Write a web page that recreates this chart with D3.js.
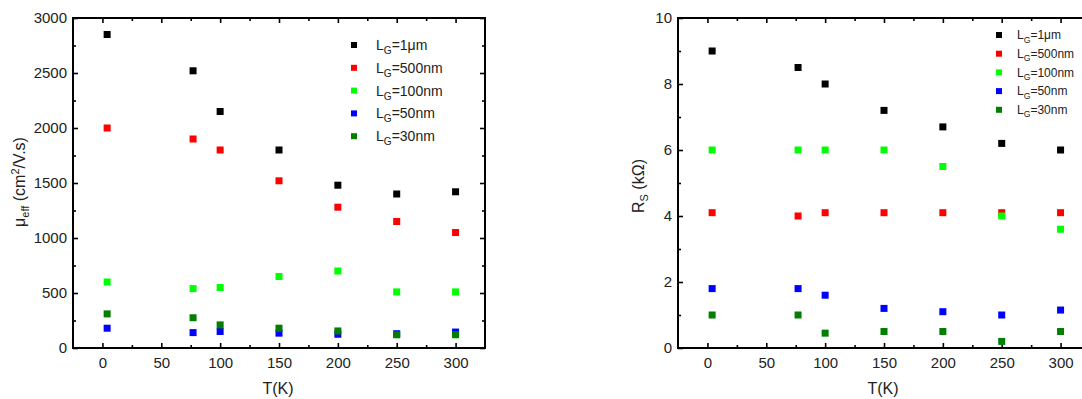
<!DOCTYPE html>
<html>
<head>
<meta charset="utf-8">
<script src="https://cdn.jsdelivr.net/npm/d3@7"></script>
<style>
  html, body { margin: 0; padding: 0; background: #fff; }
  svg { display: block; }
  text { font-family: "Liberation Sans", Arial, sans-serif; fill: #222; }
</style>
</head>
<body>
<svg id="chart" width="1082" height="399"></svg>
<script>
// ---- data ----
const temperatures = [4, 77, 100, 150, 200, 250, 300];
const gateLengths = ["1μm", "500nm", "100nm", "50nm", "30nm"];
const seriesColors = ["#000000", "#ff0000", "#00ff00", "#0000ff", "#007f00"];

// effective mobility (cm^2/V.s)
const mu_1um   = [2850, 2520, 2150, 1800, 1480, 1400, 1420];
const mu_500nm = [2000, 1900, 1800, 1520, 1280, 1150, 1050];
const mu_100nm = [600, 540, 550, 650, 700, 510, 510];
const mu_50nm  = [180, 140, 150, 135, 125, 130, 145];
const mu_30nm  = [310, 275, 210, 180, 155, 120, 120];

// source resistance (kOhm)
const rs_1um   = [9.0, 8.5, 8.0, 7.2, 6.7, 6.2, 6.0];
const rs_500nm = [4.1, 4.0, 4.1, 4.1, 4.1, 4.1, 4.1];
const rs_100nm = [6.0, 6.0, 6.0, 6.0, 5.5, 4.0, 3.6];
const rs_50nm  = [1.8, 1.8, 1.6, 1.2, 1.1, 1.0, 1.15];
const rs_30nm  = [1.0, 1.0, 0.45, 0.5, 0.5, 0.2, 0.5];

const xTicks = [0, 50, 100, 150, 200, 250, 300];
const xMinorTicks = [25, 75, 125, 175, 225, 275];
const muTicks = [0, 500, 1000, 1500, 2000, 2500, 3000];
const muMinorTicks = [250, 750, 1250, 1750, 2250, 2750];
const rsTicks = [0, 2, 4, 6, 8, 10];
const rsMinorTicks = [1, 3, 5, 7, 9];

const svg = d3.select("#chart");

function panel(cfg) {
  const g = svg.append("g");
  const x = d3.scaleLinear().domain([-25, 325]).range([cfg.left, cfg.right]);
  const y = d3.scaleLinear().domain(cfg.yDomain).range([348, 18]);

  function styleAxis(sel) {
    sel.select(".domain").remove();
    sel.selectAll("line").attr("stroke", "#000").attr("stroke-width", 1.6);
    sel.selectAll("text").style("font-size", "15px").style("font-family", '"Liberation Sans", Arial, sans-serif').attr("fill", "#222");
  }

  // bottom
  g.append("g").attr("transform", `translate(0,${y.range()[0]})`)
    .call(d3.axisBottom(x).tickValues(xTicks).tickSize(-5).tickPadding(9).tickFormat(d3.format("d")))
    .call(styleAxis);
  g.append("g").attr("transform", `translate(0,${y.range()[0]})`)
    .call(d3.axisBottom(x).tickValues(xMinorTicks).tickSize(-3).tickFormat(""))
    .call(styleAxis);
  // top
  g.append("g").attr("transform", `translate(0,${y.range()[1]})`)
    .call(d3.axisTop(x).tickValues(xTicks).tickSize(-5).tickFormat(""))
    .call(styleAxis);
  g.append("g").attr("transform", `translate(0,${y.range()[1]})`)
    .call(d3.axisTop(x).tickValues(xMinorTicks).tickSize(-3).tickFormat(""))
    .call(styleAxis);
  // left
  g.append("g").attr("transform", `translate(${cfg.left},0)`)
    .call(d3.axisLeft(y).tickValues(cfg.yTicks).tickSize(-5).tickPadding(6).tickFormat(d3.format("d")))
    .call(styleAxis);
  g.append("g").attr("transform", `translate(${cfg.left},0)`)
    .call(d3.axisLeft(y).tickValues(cfg.yMinor).tickSize(-3).tickFormat(""))
    .call(styleAxis);
  // right
  g.append("g").attr("transform", `translate(${cfg.right},0)`)
    .call(d3.axisRight(y).tickValues(cfg.yTicks).tickSize(-5).tickFormat(""))
    .call(styleAxis);
  g.append("g").attr("transform", `translate(${cfg.right},0)`)
    .call(d3.axisRight(y).tickValues(cfg.yMinor).tickSize(-3).tickFormat(""))
    .call(styleAxis);

  // frame
  g.append("rect")
    .attr("x", cfg.left).attr("y", y.range()[1])
    .attr("width", cfg.right - cfg.left).attr("height", y.range()[0] - y.range()[1])
    .attr("fill", "none").attr("stroke", "#000").attr("stroke-width", 2);

  // points
  const ms = 7;
  cfg.series.forEach((vals, i) => {
    g.append("g").selectAll("rect")
      .data(vals.map((v, j) => ({ t: temperatures[j], v })))
      .join("rect")
      .attr("x", d => x(d.t) - ms / 2)
      .attr("y", d => y(d.v) - ms / 2)
      .attr("width", ms).attr("height", ms)
      .attr("fill", seriesColors[i]);
  });

  // x title
  g.append("text")
    .attr("x", cfg.xTitleX).attr("y", 394)
    .attr("text-anchor", "middle")
    .style("font-size", "16px")
    .text("T(K)");

  // y title
  const yt = g.append("text")
    .attr("transform", `translate(${cfg.yTitleX},${cfg.yTitleY}) rotate(-90)`)
    .attr("text-anchor", "middle")
    .style("font-size", "16px");
  cfg.yTitle(yt);

  // legend
  const L = cfg.legend;
  gateLengths.forEach((name, i) => {
    const yy = L.y0 + i * L.dy;
    g.append("rect")
      .attr("x", L.x - L.ms / 2).attr("y", yy - L.ms / 2)
      .attr("width", L.ms).attr("height", L.ms)
      .attr("fill", seriesColors[i]);
    const t = g.append("text")
      .attr("x", L.tx).attr("y", yy + L.fs * 0.36)
      .style("font-size", L.fs + "px");
    t.append("tspan").text("L");
    t.append("tspan").attr("dy", L.fs * 0.28).style("font-size", (L.fs * 0.72) + "px").text("G");
    t.append("tspan").attr("dy", -L.fs * 0.28).text("=" + name);
  });
}

panel({
  left: 73, right: 485,
  yDomain: [0, 3000], yTicks: muTicks, yMinor: muMinorTicks,
  series: [mu_1um, mu_500nm, mu_100nm, mu_50nm, mu_30nm],
  xTitleX: 278,
  yTitleX: 25, yTitleY: 182,
  yTitle: t => {
    t.append("tspan").text("μ");
    t.append("tspan").attr("dy", 4).style("font-size", "11px").text("eff");
    t.append("tspan").attr("dy", -4).text(" (cm");
    t.append("tspan").attr("dy", -6).style("font-size", "11px").text("2");
    t.append("tspan").attr("dy", 6).text("/V.s)");
  },
  legend: { x: 354, tx: 376, y0: 45, dy: 22.8, ms: 6, fs: 14 }
});

panel({
  left: 678, right: 1090,
  yDomain: [0, 10], yTicks: rsTicks, yMinor: rsMinorTicks,
  series: [rs_1um, rs_500nm, rs_100nm, rs_50nm, rs_30nm],
  xTitleX: 883,
  yTitleX: 644, yTitleY: 186,
  yTitle: t => {
    t.append("tspan").text("R");
    t.append("tspan").attr("dy", 4).style("font-size", "11px").text("S");
    t.append("tspan").attr("dy", -4).text(" (kΩ)");
  },
  legend: { x: 999, tx: 1017, y0: 35, dy: 18.7, ms: 6, fs: 12 }
});
</script>
</body>
</html>
